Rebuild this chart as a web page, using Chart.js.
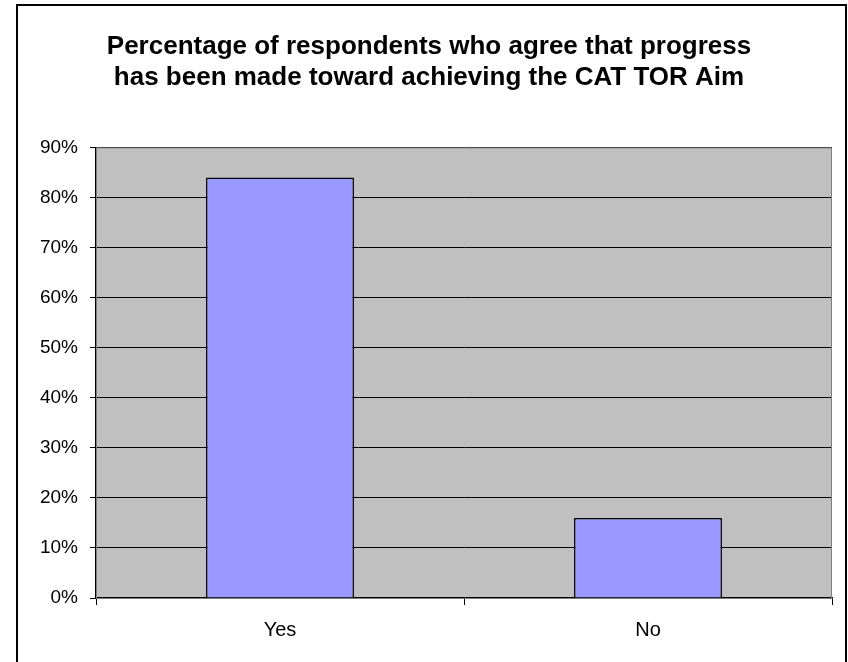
<!DOCTYPE html>
<html>
<head>
<meta charset="utf-8">
<script src="https://cdn.jsdelivr.net/npm/chart.js@4"></script>
<style>
  html, body { margin: 0; padding: 0; background: #fff; }
  #wrap { position: absolute; left: 0; top: 0; width: 848px; height: 662px; }
</style>
</head>
<body>
<div id="wrap"><canvas id="chart" width="848" height="662"></canvas></div>
<script>
const categories = ["Yes", "No"];
const agreeValues = [84, 16];
const yTicks = [0, 10, 20, 30, 40, 50, 60, 70, 80, 90];
const titleLines = [
  "Percentage of respondents who agree that progress",
  "has been made toward achieving the CAT TOR Aim"
];

// outer frame + grey plot background
const framePlugin = {
  id: 'frame',
  beforeDraw(chart) {
    const ctx = chart.ctx;
    const a = chart.chartArea;
    ctx.save();
    ctx.fillStyle = '#ffffff';
    ctx.fillRect(0, 0, chart.width, chart.height);
    ctx.strokeStyle = '#000000';
    ctx.lineWidth = 2;
    ctx.beginPath();
    ctx.moveTo(17, 700);
    ctx.lineTo(17, 5);
    ctx.lineTo(846, 5);
    ctx.lineTo(846, 700);
    ctx.stroke();
    ctx.fillStyle = '#c0c0c0';
    ctx.fillRect(a.left, a.top, a.right - a.left, a.bottom - a.top);
    ctx.restore();
  },
  afterDatasetsDraw(chart) {
    const ctx = chart.ctx;
    const a = chart.chartArea;
    ctx.save();
    ctx.strokeStyle = '#808080';
    ctx.lineWidth = 1;
    ctx.strokeRect(a.left + 0.5, a.top + 0.5, a.right - a.left - 1, a.bottom - a.top);
    ctx.restore();
  }
};

const ctx = document.getElementById('chart').getContext('2d');
new Chart(ctx, {
  type: 'bar',
  data: {
    labels: categories,
    datasets: [{
      data: agreeValues,
      backgroundColor: '#9999ff',
      borderColor: '#000000',
      borderWidth: 1.5,
      barPercentage: 0.402,
      categoryPercentage: 1.0
    }]
  },
  options: {
    responsive: false,
    animation: false,
    layout: { padding: { left: 26, right: 16, top: 0, bottom: 0 } },
    plugins: {
      legend: { display: false },
      tooltip: { enabled: false },
      title: {
        display: true,
        text: titleLines,
        color: '#000000',
        font: { family: 'Liberation Sans, Arial, sans-serif', size: 26, weight: 'bold', lineHeight: 1.2 },
        padding: { top: 31, bottom: 54 }
      }
    },
    scales: {
      x: {
        grid: {
          offset: true,
          drawOnChartArea: false,
          drawTicks: true,
          tickLength: 7,
          color: '#000000'
        },
        border: { display: true, color: '#000000', width: 1.5 },
        ticks: {
          color: '#000000',
          font: { family: 'Liberation Sans, Arial, sans-serif', size: 20 },
          padding: 13
        },
        afterFit(scale) { scale.height = 64; }
      },
      y: {
        min: 0,
        max: 90,
        afterBuildTicks(scale) { scale.ticks = yTicks.map(v => ({ value: v })); },
        grid: {
          color: '#000000',
          lineWidth: 1,
          tickLength: 6,
          drawTicks: true
        },
        border: { display: true, color: '#000000', width: 1.5 },
        ticks: {
          color: '#000000',
          font: { family: 'Liberation Sans, Arial, sans-serif', size: 19 },
          padding: 12,
          callback: v => v + '%'
        },
        afterFit(scale) { scale.width = 70; }
      }
    }
  },
  plugins: [framePlugin]
});
</script>
</body>
</html>
